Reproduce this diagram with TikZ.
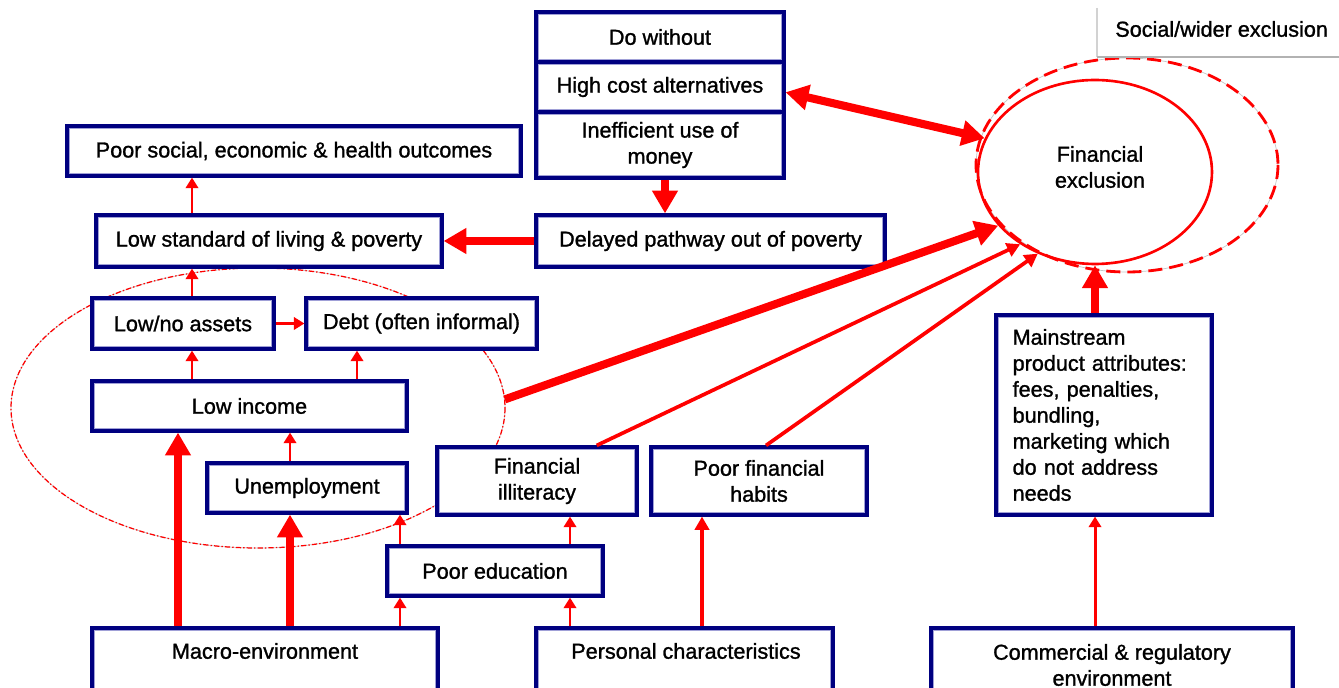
\documentclass[tikz,border=0pt]{standalone}
\usepackage{fontspec}
\setmainfont{Liberation Sans}
\newfontfamily\diagfont{Liberation Sans}[UprightFeatures={FakeBold=1.2}]
\usetikzlibrary{arrows.meta,shapes.geometric}
\definecolor{boxnavy}{RGB}{0,0,128}
\definecolor{boxlav}{RGB}{160,160,215}
\definecolor{linkred}{RGB}{255,0,0}
\begin{document}
\begin{tikzpicture}[x=0.02cm,y=-0.02cm,
  txt/.style={font=\diagfont\fontsize{12.3}{14.8}\selectfont, align=center},
  box/.style={txt, draw=boxnavy, line width=1.8pt, fill=white, inner sep=0pt,
    path picture={\draw[boxlav, line width=3pt]
      (path picture bounding box.south west) rectangle (path picture bounding box.north east);}},
  boxat/.style n args={4}{minimum width={(#3-#1)*0.02cm}, minimum height={(#4-#2)*0.02cm},
                          at={({(#1+#3)/2},{(#2+#4)/2})}},
  lbl/.style={txt, inner sep=0pt},
  thinarr/.style={draw=linkred, line width=1.7pt, -{Triangle[width=7pt,length=6pt]}},
  medarr/.style={draw=linkred, line width=2.1pt, -{Triangle[width=8pt,length=7.5pt]}},
  thickarr/.style={draw=linkred, line width=4.6pt, -{Triangle[width=14pt,length=13pt]}},
  ringbase/.style={ellipse, draw=gray!45, line width=0.4pt, inner sep=0pt},
  clusterdash/.style={draw=linkred, line width=0.7pt, dash pattern=on 3pt off 1.2pt on 0.8pt off 1.2pt},
  ringdash/.style={draw=linkred, line width=1.6pt, dash pattern=on 8pt off 4pt},
]
\useasboundingbox (0,0) rectangle (1339,688);
\clip (0,0) rectangle (1339,688);
\fill[white] (0,0) rectangle (1339,688);

% x positions of the vertical links
\coordinate (cA) at (192,0);
\coordinate (cB) at (357,0);
\coordinate (cC) at (290,0);
\coordinate (cD) at (178,0);
\coordinate (cE) at (400,0);
\coordinate (cF) at (570,0);
\coordinate (cG) at (702,0);
\coordinate (cH) at (665,0);

% group outlines
\node[ringbase, minimum width=9.88cm, minimum height=5.6cm] (cluster) at (258,408) {};
\draw[clusterdash] (cluster.center) ellipse [x radius=247, y radius=140];
\node[ringbase, minimum width=6.04cm, minimum height=4.28cm] (swring) at (1127,165) {};
\draw[ringdash] (swring.center) ellipse [x radius=151, y radius=107];
\node[ellipse, draw=linkred, line width=1.5pt, inner sep=0pt,
      minimum width=4.68cm, minimum height=3.68cm] (fe) at (1095,172) {};
\node[lbl] (fetxt) at (1100,167) {Financial\\exclusion};

% wider exclusion caption
\draw[gray!35, line width=0.8pt] (1097,8) -- (1097,57);
\draw[gray!60, line width=1.4pt] (1097,57) -- (1345,57);
\node[lbl, anchor=west] (sw) at (1115,29) {Social/wider exclusion};

% boxes
\node[box, boxat={536}{12}{784}{62}] (dw) {Do without};
\node[box, boxat={536}{62}{784}{112}] (hc) {High cost alternatives};
\node[box, boxat={536}{112}{784}{178}] (ineff) {Inefficient use of\\money};
\node[box, boxat={67}{126}{521}{176}] (pso) {Poor social, economic \& health outcomes};
\node[box, boxat={96}{215}{442}{267}] (lsl) {Low standard of living \& poverty};
\node[box, boxat={536}{215}{885}{267}] (dp) {Delayed pathway out of poverty};
\node[box, boxat={92}{298}{274}{349}] (lna) {Low/no assets};
\node[box, boxat={306}{298}{537}{349}] (debt) {Debt (often informal)};
\node[box, boxat={92}{381}{407}{431}] (li) {Low income};
\node[box, boxat={207}{463}{407}{513}] (un) {Unemployment};
\node[box, boxat={437}{447}{637}{515}] (fil) {Financial\\illiteracy};
\node[box, boxat={651}{447}{867}{515}] (hab) {Poor financial\\habits};
\node[box, boxat={387}{546}{603}{596}] (pe) {Poor education};
\node[box, boxat={996}{315}{1212}{515}, align=left, text width=104pt] (ms)
  {Mainstream\\product attributes:\\fees, penalties,\\bundling,\\marketing which\\do not address\\needs};
\node[box, boxat={92}{628}{438}{720}] (macro) {};
\node[box, boxat={536}{628}{833}{720}] (pc) {};
\node[box, boxat={931}{628}{1293}{720}] (comm) {};
\node[lbl] (macrot) at (265,651) {Macro-environment};
\node[lbl] (pct) at (686,651) {Personal characteristics};
\node[lbl] (commt) at (1112,665) {Commercial \& regulatory\\environment};

% links
\draw[thinarr] (lsl.north -| cA) -- (pso.south -| cA);
\draw[thickarr] (dp.west) -- (lsl.east);
\draw[thickarr] (ineff.south -| cH) -- (dp.north -| cH);
\draw[thickarr, {Triangle[width=14pt,length=13pt]}-{Triangle[width=14pt,length=13pt]}]
  ([yshift=-3pt]hc.east) -- (fe.163);
\draw[thinarr] (lna.north -| cA) -- (lsl.south -| cA);
\draw[thinarr] (lna.east) -- (debt.west);
\draw[thinarr] (li.north -| cA) -- (lna.south -| cA);
\draw[thinarr] (li.north -| cB) -- (debt.south -| cB);
\draw[thinarr] (un.north -| cC) -- (li.south -| cC);
\draw[thickarr] (macro.north -| cD) -- (li.south -| cD);
\draw[thickarr] (macro.north -| cC) -- (un.south -| cC);
\draw[thinarr] (macro.north -| cE) -- (pe.south -| cE);
\draw[thinarr] (pe.north -| cE) -- (un.south -| cE);
\draw[thinarr] (pe.north -| cF) -- (fil.south -| cF);
\draw[thinarr] (pc.north -| cF) -- (pe.south -| cF);
\draw[medarr] (pc.north -| cG) -- (hab.south -| cG);
\draw[thickarr] (cluster.2) -- (fe.209);
\draw[medarr] ([xshift=34pt]fil.north) -- (fe.224);
\draw[medarr] ([xshift=4pt]hab.north) -- (fe.235);
\draw[thickarr] (ms.north -| fe.south) -- (fe.south);
\draw[thinarr] (comm.north -| fe.south) -- (ms.south -| fe.south);
\end{tikzpicture}
\end{document}
